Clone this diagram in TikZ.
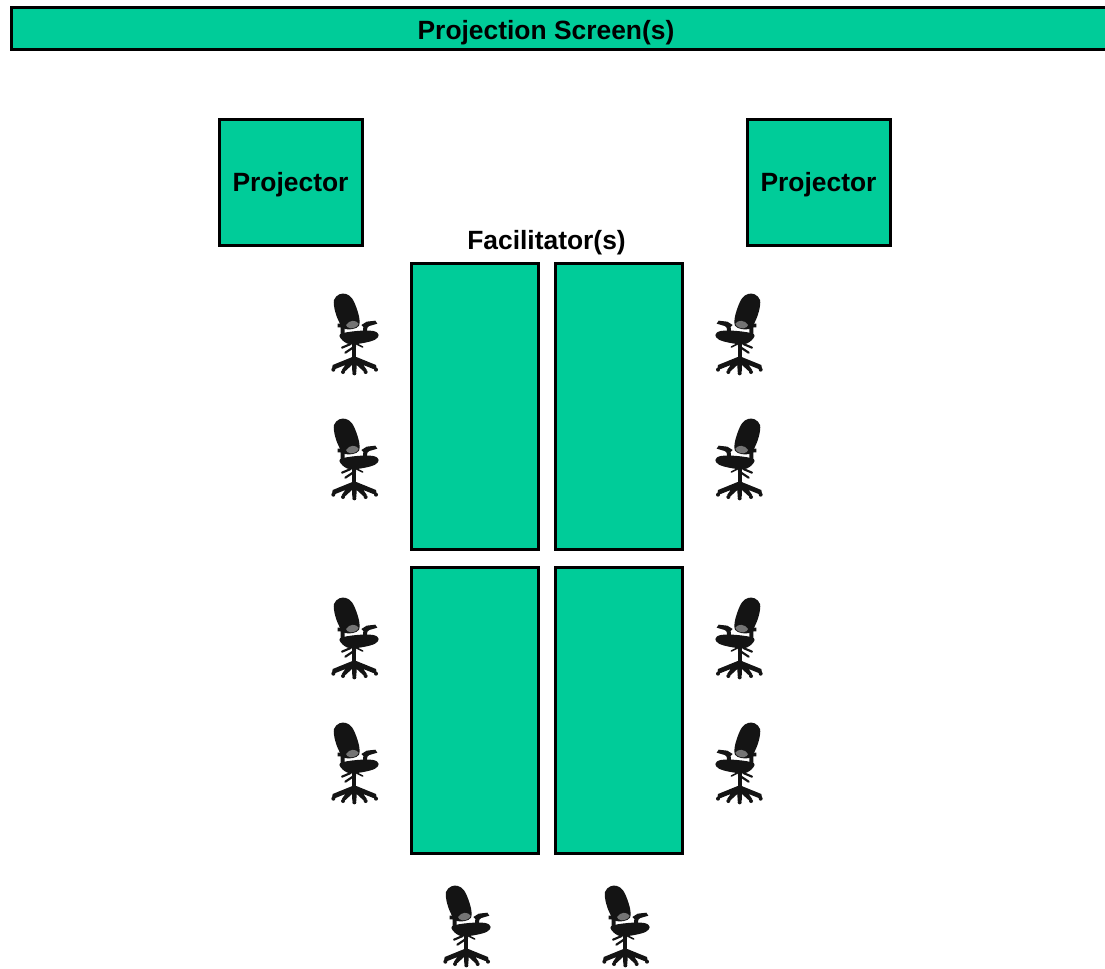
\documentclass[tikz,border=0pt]{standalone}
\usepackage{fontspec}
\setmainfont{Liberation Sans}
\definecolor{roomgreen}{HTML}{00CC99}
\tikzset{
  px/.style={x=0.75pt,y=-0.75pt},
  greenbox/.style={draw=black,fill=roomgreen,line width=2.25pt,rectangle,inner sep=0pt,outer sep=0pt,anchor=north west},
  boxtext/.style={font=\bfseries\fontsize{19.8}{22}\selectfont,text=black},
  pics/chair/.style={code={
    \begin{scope}[x=0.25pt,y=-0.25pt,line join=round,line cap=round]
      % base legs
      \fill[black!92] (97,216) -- (38,240) -- (36,252) -- (46,252) -- (76,240) -- (66,254) -- (72,262) -- (96,240) -- (97,262) -- (109,262) -- (110,240) -- (134,262) -- (140,254) -- (130,240) -- (160,252) -- (170,252) -- (168,240) -- (109,216) -- cycle;
      % casters
      \fill[black!92] (40,254) circle [radius=6];
      \fill[black!92] (69,261) circle [radius=6];
      \fill[black!92] (103,265) circle [radius=6];
      \fill[black!92] (137,261) circle [radius=6];
      \fill[black!92] (168,254) circle [radius=6];
      % column
      \fill[black!92] (97,168) rectangle (109,224);
      % levers
      \draw[black!92,line width=1.6pt] (66,188) -- (92,177);
      \draw[black!92,line width=1.6pt] (76,203) -- (106,183);
      \draw[black!92,line width=1.2pt] (108,176) -- (128,186);
      % seat
      \fill[black!92] plot[smooth cycle,tension=.6] coordinates {(60,148) (110,138) (160,138) (176,150) (165,164) (135,173) (95,178) (72,170)};
      % arm
      \fill[black!92] (124,120) -- (140,110) -- (166,107) -- (172,116) -- (148,123) -- (142,128) -- (140,148) -- (128,148) -- (130,126) -- cycle;
      \fill[black!92] (53,116) -- (74,116) -- (74,150) -- (62,150) -- (62,127) -- (53,127) -- cycle;
      % back
      \fill[black!92] plot[smooth cycle,tension=.6] coordinates {(42,45) (58,28) (78,27) (96,40) (110,70) (118,100) (117,122) (98,132) (70,130) (56,108) (45,78)};
      % highlight
      \fill[black!45,opacity=.8] (78,120) .. controls (88,104) and (108,104) .. (116,116) .. controls (114,124) and (104,130) .. (92,130) .. controls (84,129) and (79,125) .. (78,120) -- cycle;
    \end{scope}
  }},
}
\begin{document}
\begin{tikzpicture}[px]
  \useasboundingbox (0,0) rectangle (1105,968);
  \node[greenbox,minimum width=1110*0.75pt,minimum height=42*0.75pt] (screen) at (11,7) {};
  \node[boxtext] (screenlabel) at (546,33) {Projection Screen(s)};
  \node[greenbox,minimum width=143*0.75pt,minimum height=126*0.75pt] (projL) at (219,119) {};
  \node[boxtext] (projLlabel) at (290.5,185) {Projector};
  \node[greenbox,minimum width=143*0.75pt,minimum height=126*0.75pt] (projR) at (747,119) {};
  \node[boxtext] (projRlabel) at (818.5,185) {Projector};
  \node[boxtext] (facil) at (546.5,243) {Facilitator(s)};
  \node[greenbox,minimum width=127*0.75pt,minimum height=286*0.75pt] (t1) at (411,263) {};
  \node[greenbox,minimum width=127*0.75pt,minimum height=286*0.75pt] (t2) at (555,263) {};
  \node[greenbox,minimum width=127*0.75pt,minimum height=286*0.75pt] (t3) at (411,567) {};
  \node[greenbox,minimum width=127*0.75pt,minimum height=286*0.75pt] (t4) at (555,567) {};
  \foreach \yy in {285,410,589,714}{
    \pic at (320,\yy) {chair};
    \pic[xscale=-1] at (774,\yy) {chair};
  }
  \pic at (432,877) {chair};
  \pic at (591,877) {chair};
\end{tikzpicture}
\end{document}
